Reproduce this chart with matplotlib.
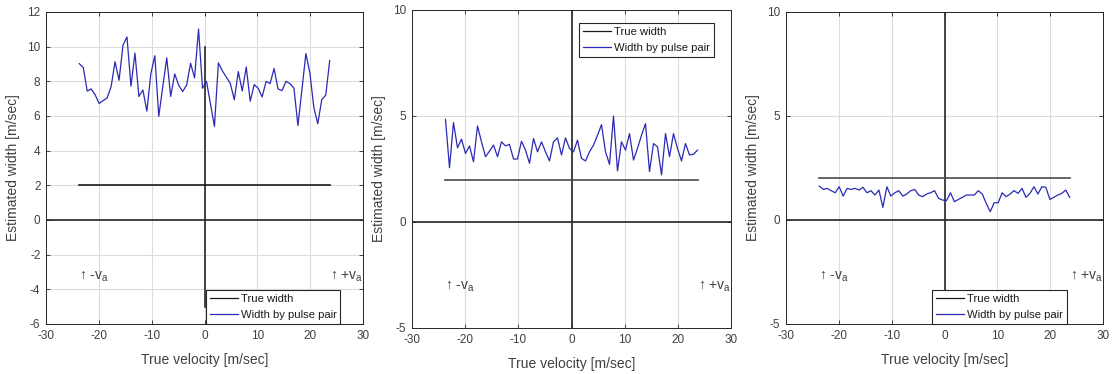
import numpy as np
import matplotlib
matplotlib.use("Agg")
import matplotlib.pyplot as plt

plt.rcParams['font.family'] = ['Liberation Sans', 'DejaVu Sans']
plt.rcParams['mathtext.fontset'] = 'custom'
plt.rcParams['mathtext.rm'] = 'Liberation Sans'
plt.rcParams['mathtext.it'] = 'Liberation Sans:italic'
plt.rcParams['axes.unicode_minus'] = False

v_a = 23.7
velocity = np.linspace(-v_a, v_a, 64)
true_width = 2.0

width_p1 = [9.02, 8.80, 7.44, 7.56, 7.22, 6.72, 6.89, 7.04, 7.69, 9.13,
            8.06, 10.09, 10.56, 7.72, 9.63, 7.13, 7.50, 6.28, 8.43, 9.48,
            5.98, 7.69, 9.35, 7.13, 8.43, 7.78, 7.41, 7.78, 9.04, 8.20,
            11.02, 7.60, 8.00, 6.70, 5.40, 9.07, 8.60, 8.24, 7.87, 6.94,
            8.56, 7.44, 8.83, 6.85, 7.81, 7.60, 7.10, 8.00, 7.87, 8.74,
            7.56, 7.46, 8.00, 7.87, 7.60, 5.45, 7.50, 9.60, 8.50, 6.50,
            5.55, 6.95, 7.20, 9.20]

width_p2 = [4.84, 2.56, 4.69, 3.50, 3.91, 3.23, 3.59, 2.84, 4.53, 3.78,
            3.08, 3.34, 3.63, 3.08, 3.78, 3.59, 3.66, 2.97, 2.97, 3.81,
            3.39, 2.77, 3.94, 3.31, 3.78, 3.31, 2.88, 3.78, 3.97, 3.16,
            3.97, 3.47, 3.31, 3.86, 3.00, 2.88, 3.31, 3.63, 4.09, 4.59,
            3.31, 2.72, 5.00, 2.41, 3.78, 3.39, 4.17, 2.92, 3.47, 4.09,
            4.64, 2.38, 3.70, 3.55, 2.22, 4.17, 3.08, 4.17, 3.47, 2.88,
            3.70, 3.16, 3.20, 3.39]

width_p3 = [1.63, 1.47, 1.52, 1.41, 1.31, 1.60, 1.15, 1.52, 1.47, 1.52,
            1.44, 1.57, 1.31, 1.41, 1.20, 1.44, 0.61, 1.60, 1.15, 1.31,
            1.41, 1.15, 1.25, 1.41, 1.47, 1.20, 1.12, 1.25, 1.31, 1.41,
            1.04, 0.96, 0.93, 1.31, 0.88, 0.99, 1.09, 1.20, 1.20, 1.20,
            1.41, 1.25, 0.80, 0.40, 0.83, 0.83, 1.31, 1.12, 1.25, 1.41,
            1.28, 1.52, 1.09, 1.28, 1.60, 1.25, 1.60, 1.57, 0.99, 1.09,
            1.20, 1.28, 1.44, 1.09]

x_ticks = [-30, -20, -10, 0, 10, 20, 30]
y_ticks_p1 = [-6, -4, -2, 0, 2, 4, 6, 8, 10, 12]
y_ticks_p23 = [-5, 0, 5, 10]

W, H = 1112, 374
fig = plt.figure(figsize=(W / 100, H / 100), dpi=100)

def px_axes(l, r, t, b):
    return fig.add_axes([l / W, 1 - b / H, (r - l) / W, (b - t) / H])

panels = [
    dict(rect=(46, 363, 12, 324), data=width_p1, ylim=(-6, 12), yt=y_ticks_p1,
         vline=(-5, 10), tcol='#1a1a1a', leg=(0.504, 0.0, 'lower left'),
         ann_y=-3.3),
    dict(rect=(412, 731, 10, 328), data=width_p2, ylim=(-5, 10), yt=y_ticks_p23,
         vline=(-5, 10), tcol='#4a4a4a', leg=(0.524, 0.96, 'upper left'),
         ann_y=-3.05),
    dict(rect=(786, 1103, 12, 324), data=width_p3, ylim=(-5, 10), yt=y_ticks_p23,
         vline=(-5, 10), tcol='#4a4a4a', leg=(0.46, 0.0, 'lower left'),
         ann_y=-2.75),
]

tick_col = '#404040'
for p in panels:
    ax = px_axes(*p['rect'])
    ax.set_xlim(-30, 30)
    ax.set_ylim(*p['ylim'])
    ax.set_xticks(x_ticks)
    ax.set_yticks(p['yt'])
    ax.grid(True, color='#dcdcdc', linewidth=0.8)
    ax.set_axisbelow(True)
    ax.tick_params(direction='in', top=True, right=True, length=3,
                   width=0.6, colors='#262626', labelcolor=tick_col,
                   labelsize=8.5, pad=4)
    for s in ax.spines.values():
        s.set_color('#262626')
        s.set_linewidth(0.7)

    ax.axhline(0, color='#262626', linewidth=1.2, zorder=2)
    ax.plot([0, 0], list(p['vline']), color='#262626', linewidth=1.2, zorder=2)

    l1, = ax.plot([velocity[0], velocity[-1]], [true_width, true_width],
                  color=p['tcol'], linewidth=1.2, zorder=3, label='True width')
    l2, = ax.plot(velocity, p['data'], color='#2a2ab4', linewidth=0.9,
                  zorder=4, label='Width by pulse pair')

    lx, ly, loc = p['leg']
    leg = ax.legend(handles=[l1, l2], loc=loc, bbox_to_anchor=(lx, ly),
                    fontsize=8.1, fancybox=False, framealpha=1,
                    edgecolor='#262626', borderpad=0.35, handlelength=2.5,
                    handletextpad=0.25, labelspacing=0.55, borderaxespad=0)
    leg.get_frame().set_linewidth(0.8)
    for h in leg.legend_handles:
        h.set_linewidth(0.9)
    leg.legend_handles[0].set_color('#1a1a1a')
    for t in leg.get_texts():
        t.set_color('#1a1a1a')

    ax.text(-v_a, p['ann_y'], '↑ -v$_{\\mathrm{a}}$', fontsize=10,
            color=tick_col, ha='left', va='center')
    ax.text(v_a, p['ann_y'], '↑ +v$_{\\mathrm{a}}$', fontsize=10,
            color=tick_col, ha='left', va='center', clip_on=False)

    ax.set_xlabel('True velocity [m/sec]', fontsize=10, color=tick_col)
    ax.set_ylabel('Estimated width [m/sec]', fontsize=10, color=tick_col)
    aw = p['rect'][1] - p['rect'][0]
    ah = p['rect'][3] - p['rect'][2]
    ax.xaxis.set_label_coords(0.5, -36 / ah)
    ax.xaxis.label.set_va('center')
    ax.yaxis.set_label_coords(-33 / aw, 0.5)
    ax.yaxis.label.set_va('center')

fig.savefig('out.png', dpi=100)
